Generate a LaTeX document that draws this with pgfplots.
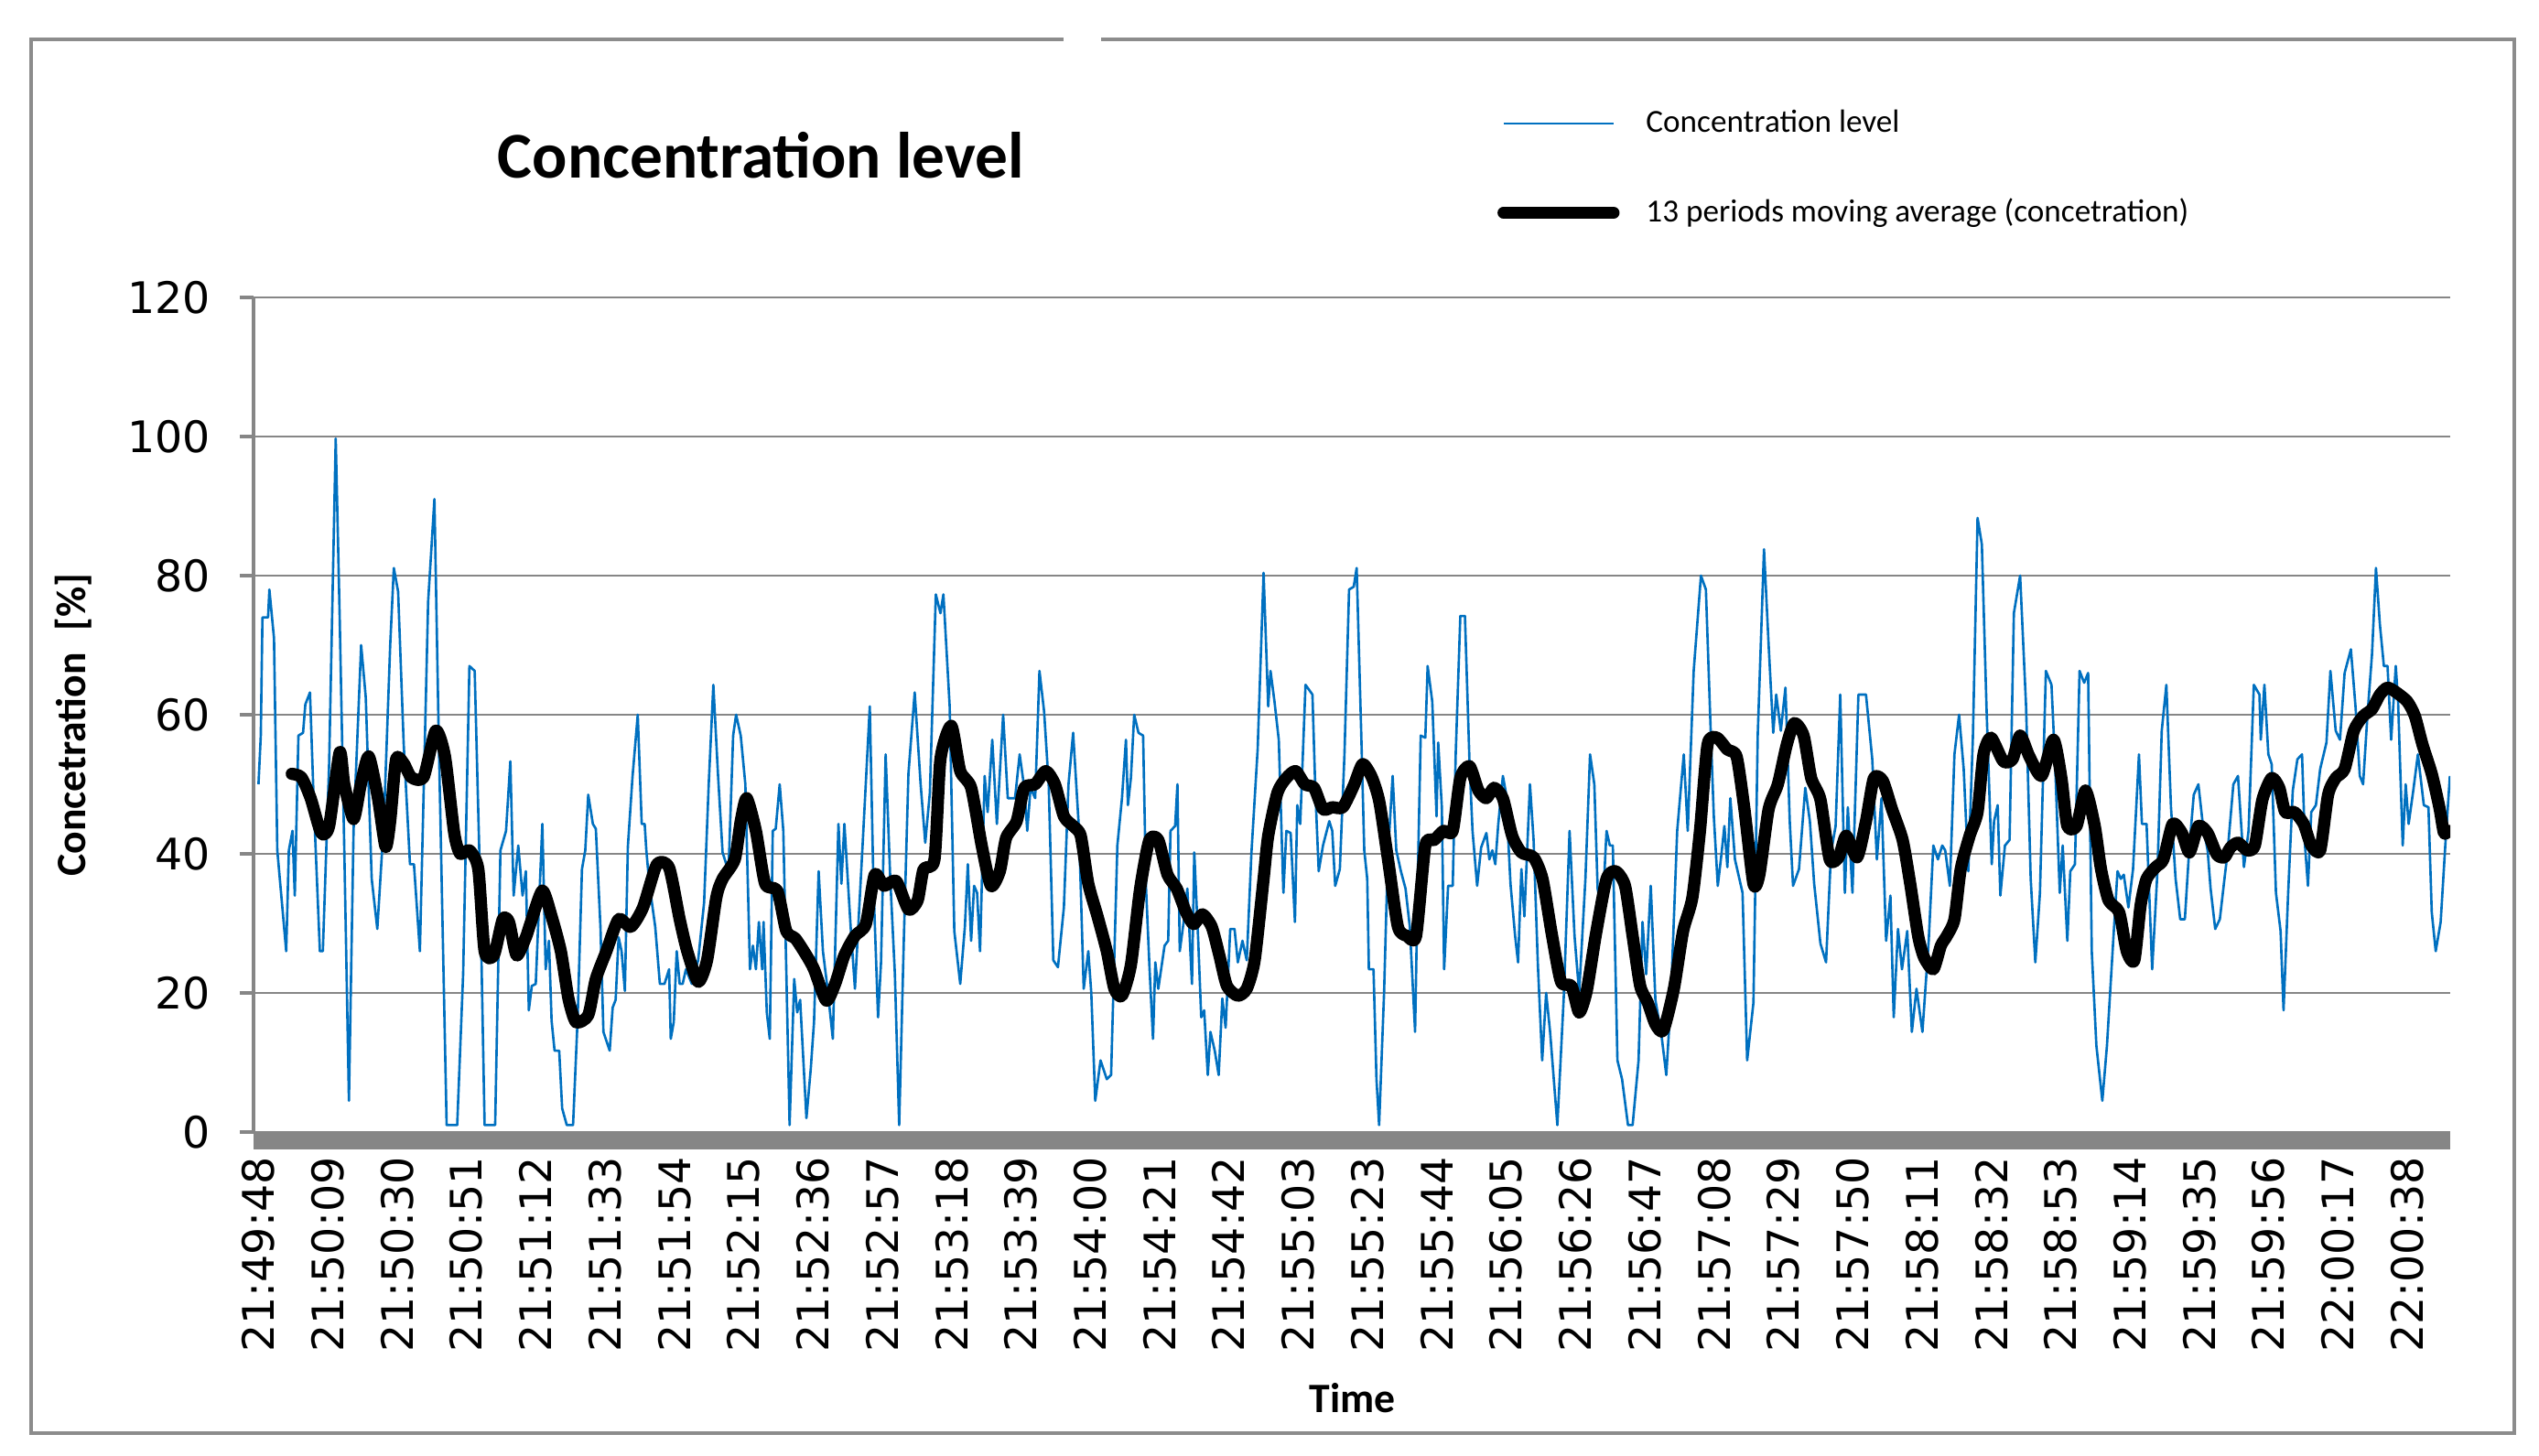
\documentclass[border=0pt]{standalone}
\usepackage{pgfplots}
\pgfplotsset{compat=1.18}
\usepackage{fontspec}
\setmainfont{Carlito}
\newfontfamily\dejavu{DejaVu Sans}
\definecolor{cblue}{RGB}{0,112,192}
\definecolor{cgrid}{RGB}{134,134,134}
\definecolor{cframe}{RGB}{140,140,140}

\begin{document}
\begin{tikzpicture}
\useasboundingbox (0,0) rectangle (27.74,15.90);
\fill[white] (0,0) rectangle (27.74,15.90);
\begin{axis}[
  at={(2.77cm,3.53cm)}, anchor=south west,
  scale only axis, width=24cm, height=9.12cm,
  xmin=-1.5, xmax=664, ymin=0, ymax=120,
  axis lines=left,
  axis line style={-, cgrid, line width=1pt},
  x axis line style={line width=5.4pt, yshift=-2.7pt},
  ytick={0,20,...,120},
  xtick={0,21,...,651},
  xticklabels={21:49:48,21:50:09,21:50:30,21:50:51,21:51:12,21:51:33,21:51:54,21:52:15,21:52:36,21:52:57,21:53:18,21:53:39,21:54:00,21:54:21,21:54:42,21:55:03,21:55:23,21:55:44,21:56:05,21:56:26,21:56:47,21:57:08,21:57:29,21:57:50,21:58:11,21:58:32,21:58:53,21:59:14,21:59:35,21:59:56,22:00:17,22:00:38},
  ymajorgrids, grid style={cgrid, line width=0.7pt},
  tick align=outside, major tick length=0.15cm,
  ytick style={cgrid, line width=1pt},
  xtick style={draw=none},
  ticklabel style={font=\dejavu\fontsize{13.5}{16}\selectfont},
  /pgf/number format/assume math mode=true,
  xticklabel style={rotate=90, anchor=east},
  yticklabel style={xshift=-0.2cm},
  title={Concentration level},
  title style={at={(axis description cs:0.231,1.147)}, anchor=center, font=\bfseries\fontsize{20.3}{24}\selectfont},
  ylabel={Concetration\hspace{0.3em} [\%]},
  ylabel style={at={(axis description cs:-0.082,0.488)}, anchor=center, font=\bfseries\fontsize{13}{16}\selectfont},
  xlabel={Time},
  xlabel style={at={(axis description cs:0.5004,-0.319)}, anchor=center, font=\bfseries\fontsize{13}{16}\selectfont},
  legend style={at={(axis description cs:0.566,1.233)}, anchor=north west, draw=none, fill=none,
    font=\fontsize{10}{12}\selectfont, inner sep=0pt, row sep=0.53cm,
    /tikz/every odd column/.append style={column sep=0.22cm}},
  legend cell align=left,
  legend image code/.code={\draw[#1] (0cm,0cm) -- (1.2cm,0cm);},
]
\addplot[cblue, line width=0.75pt, line join=round] coordinates {
(0,50) (0.7,57) (1.2,74) (2.9,74) (3.3,78) (4.7,71) (5.7,40.5) (8.4,26) (9.2,40.5) (10.3,43.3)
(11,34) (12.1,57) (13.5,57.4) (14.2,61.5) (15.6,63.2) (16.8,46.7) (18.6,26) (19.5,26) (21.4,52.9) (23.4,99.7)
(24.6,74) (26,40.5) (27.4,4.5) (28.8,43.3) (31.1,70) (32.5,62.5) (34.3,36.4) (36,29.2) (38,44.7) (39.9,70)
(41,81.1) (42.3,77.7) (44,55.7) (45.9,38.5) (47.1,38.5) (48.9,26) (51.4,76.3) (53.3,91) (54.6,57) (57,1)
(60.2,1) (62,22.7) (63.9,67) (65.5,66.3) (67.1,36.4) (68.5,1) (71.7,1) (73.3,40.5) (75,43.3) (76.3,53.3)
(77.3,34) (78.7,41.2) (80,34) (81,37.5) (81.9,17.5) (82.8,21) (84,21.3) (86,44.3) (87,23.4) (88,27.5)
(88.8,16) (89.7,11.7) (91.1,11.7) (92,3.4) (93.4,1) (95.3,1) (96.7,16.5) (98,37.8) (99,40.5) (99.9,48.5)
(101.3,44.3) (102.2,43.6) (103.6,29.5) (104.5,14.4) (106.4,11.7) (107.3,17.9) (108.2,19) (109.1,28) (110,26) (111,20.3)
(111.9,41) (113.3,51) (114.9,60) (116.1,44.3) (117,44.3) (117.5,40.5) (118.4,35.7) (120.2,29.5) (121.6,21.3) (123,21.3)
(124.4,23.4) (124.9,13.4) (125.8,15.8) (126.7,26) (127.6,21.3) (128.5,21.3) (129.5,23.4) (131.3,21.3) (133.2,24.7) (135,33)
(136.4,50) (137.8,64.3) (139.2,51.5) (140.6,40.2) (142.4,37.5) (143.8,57) (144.7,60) (146.1,57) (147.5,50) (148.9,23.4)
(149.8,26.8) (150.7,23.4) (151.6,30.2) (152.6,23.4) (153,30.2) (154,17.2) (154.9,13.4) (155.8,43.3) (156.7,43.6) (157.9,50)
(159,43.3) (160.9,1) (162.3,22) (163.2,17.2) (164.1,19) (166,2) (167.3,9) (168.3,15.8) (169.7,37.5) (171,26)
(172.4,20.6) (174,13.4) (175.7,44.3) (176.6,35.7) (177.5,44.3) (179.4,29.5) (180.7,20.6) (183.1,42) (185.2,61.2) (186.3,35.7)
(187.7,16.5) (188.6,24.4) (190,54.3) (191.4,36.4) (192.8,22.7) (194.1,1) (195.5,27.5) (196.9,51.5) (198.8,63.2) (200.6,50)
(202,41.6) (203.4,48.8) (205.2,77.3) (206.6,74.6) (207.5,77.3) (209.4,61.2) (210.8,28.9) (212.6,21.3) (214,29.5) (214.9,38.5)
(215.9,27.5) (216.8,35.4) (217.7,34.4) (218.6,26) (220,51.2) (220.9,46) (222.3,56.4) (223.7,44.3) (225.6,60) (227,48)
(229.2,48) (230.6,54.3) (232,49.5) (232.9,43.3) (233.9,49.5) (235.3,48) (236.6,66.3) (238,60.5) (239.4,50) (240.8,24.7)
(242.2,23.7) (244,32.3) (245.4,50) (246.8,57.4) (248.6,43.3) (250,20.6) (251.4,26) (252.3,20) (253.5,4.5) (255.1,10.3)
(257,7.6) (258.3,8.2) (260.2,41.2) (261.6,48) (262.8,56.4) (263.4,47) (264.3,50.9) (265.3,60) (266.6,57.4) (268,57)
(268.9,35) (269.9,24) (271,13.4) (271.7,24.4) (272.6,20.6) (274.5,26.8) (275.6,27.5) (276.3,43.3) (277.7,44) (278.4,50)
(279.1,26) (280.5,31) (281.4,35) (282.8,21.3) (283.5,40.2) (284.7,27.5) (285.6,16.5) (286.5,17.5) (287.6,8.2) (288.4,14.4)
(289.7,11.7) (290.9,8.2) (292,19.2) (293,15) (294.4,29.2) (295.7,29.2) (296.7,24.4) (298.1,27.5) (299.4,24.7) (300.8,40)
(302.7,55) (304.5,80.4) (305.9,61.2) (306.6,66.3) (307.8,61.9) (309.1,56.4) (310.5,34.4) (311.4,43.3) (312.7,43) (314,30.2)
(314.7,47) (315.6,44.3) (317.2,64.3) (319.3,62.9) (320.2,48.8) (321.2,37.5) (322.5,41.2) (324.4,44.7) (325.3,43.3) (326.2,35.4)
(327.6,37.8) (329,54.3) (330.4,78) (331.8,78.4) (332.7,81.1) (334.1,57) (335,40.5) (335.9,36.4) (336.4,23.4) (337.8,23.4)
(338.7,7.6) (339.5,1) (341,20) (342.1,39.2) (343.6,51.2) (344.7,40.5) (346.1,37.5) (347.5,35) (348.8,29.5) (350.4,14.4)
(351.2,36.4) (352.1,57) (353.5,56.7) (354.2,67) (355.6,61.9) (356.9,45.4) (357.4,56) (358.5,46.7) (359.2,23.4) (360.4,35.4)
(361.8,35.4) (362.7,54.3) (364.1,74.2) (365.5,74.2) (366.9,52.9) (367.8,43.3) (369.2,35.4) (370.4,40.9) (372,43) (372.9,39.2)
(373.8,40.5) (374.7,38.5) (375.6,44.3) (377,51.2) (377.9,48.8) (379.3,35.7) (380.7,28.2) (381.6,24.4) (382.6,37.8) (383.5,31)
(385.2,50) (386.3,42) (387.6,24) (388.9,10.3) (390.1,20) (391.3,14.4) (393.5,1) (395.5,20) (397.2,43.3) (398.7,28.2)
(400.1,20) (402,36.4) (403.4,54.3) (404.7,50) (405.7,35) (407.1,31) (408.4,43.3) (409.4,41.2) (410.3,41.2) (411.7,10.3)
(413.1,7.6) (414.9,1) (416.3,1) (418.1,10.3) (419.3,30.2) (420.4,22.7) (421.8,35.4) (423.2,19) (425.1,13.7) (426.5,8.2)
(427.9,19.2) (429.8,43.3) (431.8,54.3) (433,43.3) (434.8,66.3) (437,80) (438.5,78) (439.9,58.4) (440.9,45.4) (442.1,35.4)
(443.2,39.9) (444.1,44) (445,38.1) (445.9,48) (447.3,39.2) (449.6,34.4) (451,10.3) (452.9,18.6) (454.2,57) (456.1,83.8)
(457.5,70.1) (458.9,57.4) (459.8,62.9) (461.2,57.7) (462.6,63.9) (463.9,44.7) (464.9,35.4) (466.7,37.8) (468.6,49.5) (470,44.7)
(471.3,35.7) (473.2,27.1) (474.9,24.4) (476.4,40.2) (477.8,44) (479.2,62.9) (480.6,34.4) (481.5,46.7) (482.9,34.4) (484.7,62.9)
(487,62.9) (488.9,53.6) (490.3,39.2) (491.7,48) (493.1,27.5) (494.4,34) (495.4,16.5) (496.7,29.2) (497.9,23.4) (499.5,28.9)
(500.9,14.4) (502.3,20.6) (504.1,14.4) (506,27.5) (507.4,41.2) (508.8,39.2) (510.1,41.2) (511,40.5) (512.4,35.4) (513.8,54.3)
(515.2,60) (516.6,52.2) (518,37.5) (519.4,57) (520.8,88.3) (522.1,84.5) (523.5,61.2) (525.1,38.5) (525.8,44.7) (526.9,47)
(527.7,34) (529.1,41.2) (530.5,42) (531.8,74.6) (533.7,80) (535.5,61.2) (536.9,36.4) (538.3,24.4) (539.7,34.4) (541.5,66.3)
(543.2,64.3) (544.3,52.9) (545.7,34.4) (546.6,41.2) (548,27.5) (548.9,37.5) (550.3,38.5) (551.7,66.3) (553.1,64.6) (554.3,66)
(555.4,26) (556.8,12.4) (558.6,4.5) (560,12.4) (561.9,27.5) (563.2,37.5) (564.2,36.4) (565.1,37) (566.5,32.3) (567.9,37.8)
(568.8,46) (569.7,54.3) (570.6,44.3) (572,44.3) (573.7,23.4) (575.3,37.5) (576.6,57.7) (578,64.3) (579.4,46.7) (580.8,36.4)
(582.2,30.6) (583.6,30.6) (584.9,40.5) (586.3,48.5) (587.7,50) (589.1,44) (590.5,40.5) (591.4,35) (592.8,29.2) (594.2,30.6)
(595.6,36.4) (596.5,40) (598.3,50) (599.7,51.2) (601.5,38.1) (602.9,43.3) (604.5,64.3) (606.2,62.9) (606.6,56.4) (607.7,64.3)
(608.9,54.3) (609.9,52.9) (611.2,34.4) (612.6,28.9) (613.5,17.5) (614.9,34.4) (616.3,49.1) (617.7,53.6) (619.1,54.3) (620,41.2)
(620.9,35.4) (621.9,46) (623.3,47) (624.6,52.2) (626.5,56) (627.7,66.3) (629.3,57.7) (630.6,56.4) (632,66) (633.9,69.4)
(635.3,61.2) (636.6,51.2) (637.6,50) (638.9,59.8) (640.3,68.7) (641.5,81.1) (642.7,72.9) (643.9,67) (645,67) (646.1,56.4)
(647.5,67) (648.2,61.9) (649.6,41.2) (650.5,50) (651.4,44.3) (652.8,49.1) (654.2,54.3) (656,47) (657.4,46.7) (658.4,31.6)
(659.6,26) (661.1,30.2) (662.5,41.2) (663.9,51.2)
};
\addlegendentry{Concentration level}
\addplot[black, line width=3.8pt, line join=round, line cap=round, smooth, tension=0.4] coordinates {
(10.1,51.5) (13,51) (15.8,48) (19,43) (21.4,44) (24.6,54.6) (26,50) (28.8,45) (31,50) (33.4,54)
(36.2,48) (38.5,41) (39.9,44.7) (41.7,53.6) (44,53) (46.3,51) (50,51) (53.7,57.7) (56.5,54) (59.3,43)
(61.1,40) (63.9,40.5) (66.6,37.8) (68.5,26) (71.3,25.4) (74,30.6) (75.9,30.2) (78.2,25.4) (81,28) (82.4,30)
(86,34.7) (88.8,31) (91.6,26) (93.9,19.2) (96.2,15.8) (99.9,16.8) (102.2,22) (105.4,26) (109.1,30.6) (112.8,29.5)
(116.5,32.3) (120.7,38.5) (124.4,38) (127.6,30.6) (129.9,26) (133.2,21.6) (135.9,24.7) (138.7,33.7) (140.6,36.4) (144.3,39.2)
(146.1,44.7) (147.9,48) (150.7,43.3) (153.5,35.7) (157.2,34.7) (159.9,28.9) (162.7,27.8) (166,25.4) (168.3,23.4) (172,18.9)
(174.7,21.3) (177.5,25.4) (180.7,28.2) (184,29.9) (186.7,37) (189.5,35.4) (193.2,36.1) (196.9,32) (199.7,33.3) (201.5,37.8)
(204.8,39.2) (206.6,53.6) (209.9,58.4) (212.6,51.9) (215.9,49.5) (219.1,41.2) (221.9,35.4) (224.6,37.5) (226.5,42.3) (229.7,44.7)
(232,49.5) (235.3,50) (238.5,51.9) (241.3,50) (244,45.4) (246.8,44) (249.1,42.6) (251.4,35.7) (254.2,31) (257,26)
(259.3,20.6) (261.6,19.6) (264.3,24) (267.1,35) (269.9,42) (272.6,42) (275.4,37) (278.2,35) (281,31.6) (283.3,29.9)
(286,31.3) (288.8,29.5) (291.1,25.4) (293.4,21) (296.7,19.6) (299.4,20.6) (301.8,24.7) (304.5,36.4) (305.9,42.6) (308.7,48.8)
(311.4,50.9) (314.2,51.9) (317,50) (319.8,49.5) (322.5,46.4) (325.3,46.7) (328.5,46.7) (331.8,49.8) (334.5,52.9) (337.3,51)
(339.6,47.4) (342.4,38.5) (345.2,29.5) (347.9,28.2) (350.7,28.2) (353.5,41.2) (356.2,42) (359,43.3) (361.8,43.3) (364.1,50.9)
(366.9,52.6) (369.6,49.1) (372,48) (374.3,49.5) (377,48) (379.8,42.6) (382.6,40.2) (386.3,39.5) (389,36.4) (391.8,28.5)
(394.6,21.6) (397.8,21) (400.1,17.2) (402.4,20.3) (405.2,28.5) (408.4,36.4) (411.2,37.5) (414,35.4) (416.3,28.2) (418.6,21)
(420.9,18.6) (423.2,15.5) (425.6,14.6) (428.8,20.6) (431.6,28.9) (434.4,33.7) (436.7,43.3) (439,55.7) (441.8,56.7) (445,55)
(447.8,54) (450.1,46.7) (452.9,35.7) (454.7,37) (457.5,46.4) (460.3,50) (463,55.7) (465.3,58.8) (468.1,57) (470.4,50.9)
(473.2,47.8) (476,39.2) (478.7,39.5) (481,42.6) (484.3,39.5) (487,44.7) (489.4,50.9) (492.1,50.5) (494.9,46.4) (498.1,42)
(500.4,35.7) (502.8,28.2) (504.6,25.1) (507.4,23.4) (509.7,26.8) (511.5,28.2) (513.8,30.6) (515.7,37.8) (518.4,42.6) (520.8,46)
(522.6,54.3) (524.9,56.7) (528.6,53.3) (531.4,53.6) (533.7,57) (536.5,54) (540.2,51.2) (543.8,56.4) (546.2,50.9) (548,44)
(550.8,44) (553.5,49.1) (556.3,44) (558.2,37.8) (560.5,33.3) (563.7,31.6) (566,26) (568.3,24.7) (570.2,32.6) (572,36.4)
(574.8,38.1) (577.1,39.2) (579.9,44.3) (582.7,43) (585,40.2) (587.7,44) (590.5,43) (593.3,39.9) (595.6,39.5) (597.4,40.9)
(599.7,41.6) (602.5,40.5) (604.8,41.2) (607.1,47.8) (609.9,50.9) (612.2,49.5) (614,46) (616.8,46) (619.6,44.3) (621.9,41.2)
(624.6,40.5) (627,48.5) (629.3,50.9) (632,52.2) (634.8,57.7) (637.6,59.8) (640.3,60.8) (642.7,62.9) (645,63.9) (647.7,63.2)
(651,61.9) (653.3,59.8) (655.6,55.7) (658.4,51.5) (660.7,46.7) (662.1,43) (663.4,43.3)
};
\addlegendentry{13 periods moving average (concetration)}
\end{axis}
\draw[cframe, line width=1.2pt] (11.62,15.47) -- (0.34,15.47) -- (0.34,0.24) -- (27.47,0.24) -- (27.47,15.47) -- (12.03,15.47);
\end{tikzpicture}
\end{document}
